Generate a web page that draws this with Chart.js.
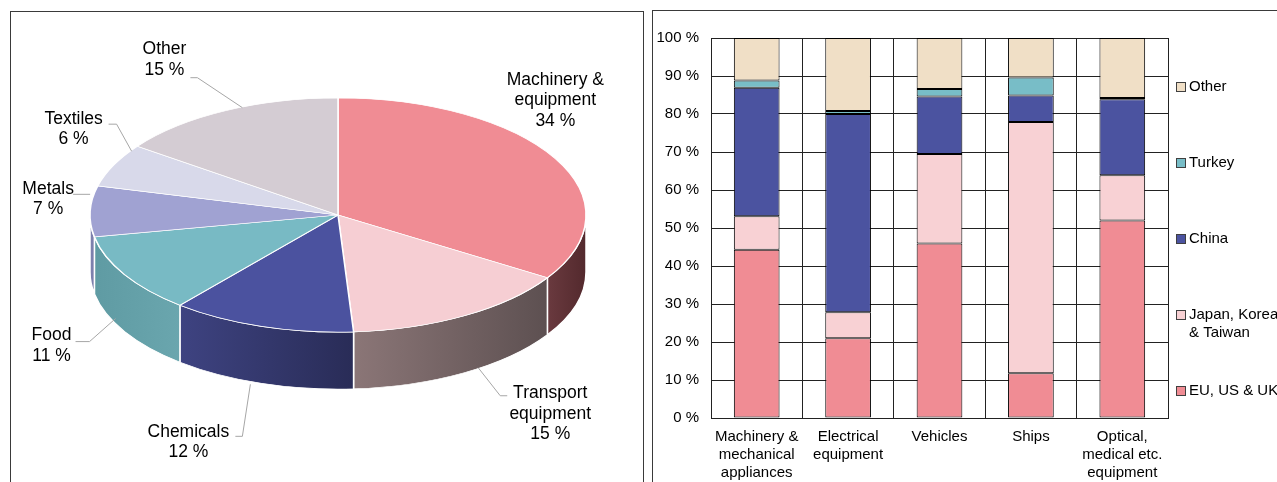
<!DOCTYPE html>
<html>
<head>
<meta charset="utf-8">
<script src="https://cdn.jsdelivr.net/npm/chart.js@4.4.1/dist/chart.umd.min.js"></script>
<style>
  html, body { margin: 0; padding: 0; background: #fff; }
  body { width: 1277px; height: 482px; overflow: hidden; position: relative; }
  .panel { position: absolute; border: 1px solid #3a3a3a; box-sizing: border-box; }
  #pieBox { left: 10px; top: 11px; width: 634px; height: 490px; }
  #barBox { left: 652px; top: 10px; width: 660px; height: 490px; }
  #pieChart { position: absolute; left: 0; top: 0; }
  #barChart { position: absolute; left: 653px; top: 11px; }
</style>
</head>
<body>
<div class="panel" id="pieBox"></div>
<div class="panel" id="barBox"></div>
<canvas id="pieChart" width="650" height="600"></canvas>
<canvas id="barChart" width="624" height="471"></canvas>

<script>
const FONT = '"Liberation Sans", Arial, sans-serif';

// pie: import shares by product group
const pieNames = [['Machinery &', 'equipment'], ['Transport', 'equipment'], ['Chemicals'], ['Food'], ['Metals'], ['Textiles'], ['Other']];
const pieValues = [34, 15, 12, 11, 7, 6, 15];
const pieColors = ['#F08C94', '#F6CED3', '#4B529F', '#78BAC4', '#A0A2D2', '#D8D9EA', '#D4CCD3'];
const pieSideColors = [
    ['#6a3a3f', '#53292d'],
    ['#8b7677', '#5d5051'],
    ['#3e4381', '#292c57'],
    ['#5f9ba3', '#6aa6ae'],
    ['#7d80ad', '#7d80ad'],
    ['#a9aabb', '#a9aabb'],
    ['#a8a0a6', '#a8a0a6']
];

// bar: share by origin
const barCategories = [['Machinery &', 'mechanical', 'appliances'], ['Electrical', 'equipment'], 'Vehicles', 'Ships', ['Optical,', 'medical etc.', 'equipment']];
const euUsUk = [44.3, 21.0, 45.9, 11.8, 52.0];
const japanKoreaTaiwan = [8.8, 6.8, 23.6, 66.1, 11.9];
const china = [33.8, 52.2, 15.1, 7.0, 20.0];
const turkey = [1.9, 0.8, 2.0, 4.7, 0.3];
const other = [11.2, 19.2, 13.4, 10.4, 15.8];

// pie layout (screen position of the tilted pie)
const PIE_CX = 338, PIE_CY = 215, PIE_K = 0.472, PIE_DEPTH = 57;

// label block offset + leader path, relative to the slice anchor
const pieLabelLayout = [
    { text: [0, -58], path: null },
    { text: [86, 41], path: [[14, -5], [36, 23], [43, 23]] },
    { text: [-73, 59], path: [[-11, 1], [-19, 53], [-26, 53]] },
    { text: [-73, 14], path: [[-9, -13], [-35, 10], [-49, 10]] },
    { text: [-42, -12], path: [[0, -17], [-17, -17]] },
    { text: [-40, -36], path: [[18, -14], [3, -41], [-5, -41]] },
    { text: [-61, -51], path: [[17, -3], [-28, -33], [-35, -33]] }
];

const pie3d = {
    id: 'pie3d',
    beforeDatasetsDraw(chart) {
        const ctx = chart.ctx;
        const arcs = chart.getDatasetMeta(0).data;
        const c = arcs[0];
        ctx.save();
        ctx.translate(PIE_CX, PIE_CY);
        ctx.scale(1, PIE_K);
        ctx.translate(-c.x, -c.y);

        const D = PIE_DEPTH / PIE_K;
        arcs.forEach((arc, i) => {
            const s = Math.max(arc.startAngle, 0);
            const e = Math.min(arc.endAngle, Math.PI);
            if (e <= s) return;
            const r = arc.outerRadius;
            ctx.beginPath();
            ctx.arc(arc.x, arc.y, r, s, e);
            ctx.arc(arc.x, arc.y + D, r, e, s, true);
            ctx.closePath();
            const xa = arc.x + r * Math.cos(e), xb = arc.x + r * Math.cos(s);
            const g = ctx.createLinearGradient(Math.min(xa, xb), 0, Math.max(xa, xb) + 0.01, 0);
            g.addColorStop(0, pieSideColors[i][0]);
            g.addColorStop(1, pieSideColors[i][1]);
            ctx.fillStyle = g;
            ctx.fill();
            ctx.strokeStyle = '#fff';
            ctx.lineWidth = 1.5;
            ctx.stroke();
        });
    },
    afterDatasetsDraw(chart) {
        chart.ctx.restore();
    },
    afterDraw(chart) {
        const ctx = chart.ctx;
        const arcs = chart.getDatasetMeta(0).data;
        ctx.save();
        ctx.font = '17.5px ' + FONT;
        ctx.textAlign = 'center';
        ctx.textBaseline = 'middle';
        arcs.forEach((arc, i) => {
            const mid = (arc.startAngle + arc.endAngle) / 2;
            const r = arc.outerRadius;
            const ax = PIE_CX + r * Math.cos(mid);
            let ay = PIE_CY + r * PIE_K * Math.sin(mid);
            if (Math.sin(mid) > 0) ay += PIE_DEPTH;
            const lay = pieLabelLayout[i];

            if (lay.path) {
                ctx.strokeStyle = '#a6a6a6';
                ctx.lineWidth = 1;
                ctx.beginPath();
                lay.path.forEach((p, j) => {
                    if (j === 0) ctx.moveTo(ax + p[0], ay + p[1]);
                    else ctx.lineTo(ax + p[0], ay + p[1]);
                });
                ctx.stroke();
            }

            const lines = pieNames[i].concat([pieValues[i] + ' %']);
            const lh = 20.5;
            const cx = ax + lay.text[0];
            const cy = ay + lay.text[1] - (lines.length - 1) * lh / 2;
            ctx.fillStyle = '#000';
            lines.forEach((t, j) => ctx.fillText(t, cx, cy + j * lh));
        });
        ctx.restore();
    }
};

new Chart(document.getElementById('pieChart'), {
    type: 'pie',
    data: {
        labels: pieNames.map(n => n.join(' ')),
        datasets: [{
            data: pieValues,
            backgroundColor: pieColors,
            borderColor: '#fff',
            borderWidth: 1.5,
            clip: false
        }]
    },
    options: {
        responsive: false,
        animation: false,
        radius: 248,
        events: [],
        plugins: { legend: { display: false }, tooltip: { enabled: false } }
    },
    plugins: [pie3d]
});

// legend on the right, spread down the plot height
const sideLegend = {
    id: 'sideLegend',
    afterDraw(chart) {
        const ctx = chart.ctx;
        const a = chart.chartArea;
        const h = a.bottom - a.top;
        const sets = chart.data.datasets.slice().reverse();
        ctx.save();
        ctx.font = '15px ' + FONT;
        ctx.textBaseline = 'middle';
        ctx.textAlign = 'left';
        sets.forEach((ds, i) => {
            const y = Math.round(a.top + h * (0.129 + 0.2 * i));
            const bx = a.right + 8;
            ctx.fillStyle = ds.backgroundColor;
            ctx.fillRect(bx, y - 5, 9, 9);
            ctx.strokeStyle = '#404040';
            ctx.lineWidth = 1;
            ctx.strokeRect(bx + 0.5, y - 4.5, 9, 9);
            ctx.fillStyle = '#000';
            const lines = ds.legendText || [ds.label];
            lines.forEach((t, j) => ctx.fillText(t, bx + 13, y + j * 18));
        });
        ctx.restore();
    }
};

const gridCol = '#222';
const tickFont = { family: FONT, size: 15, lineHeight: 1.2 };

new Chart(document.getElementById('barChart'), {
    type: 'bar',
    data: {
        labels: barCategories,
        datasets: [
            { label: 'EU, US & UK', data: euUsUk, backgroundColor: '#F08C94' },
            { label: 'Japan, Korea & Taiwan', legendText: ['Japan, Korea', '& Taiwan'], data: japanKoreaTaiwan, backgroundColor: '#F8D1D4' },
            { label: 'China', data: china, backgroundColor: '#4B53A0' },
            { label: 'Turkey', data: turkey, backgroundColor: '#78BDC7' },
            { label: 'Other', data: other, backgroundColor: '#F0DFC6' }
        ]
    },
    options: {
        responsive: false,
        animation: false,
        events: [],
        layout: { padding: { top: 27, right: 109, left: 0, bottom: 0 } },
        datasets: {
            bar: {
                barPercentage: 0.5,
                categoryPercentage: 1,
                borderWidth: 1,
                borderColor: '#000',
                borderSkipped: false
            }
        },
        scales: {
            x: {
                stacked: true,
                grid: { offset: true, color: gridCol, drawTicks: false },
                border: { color: gridCol },
                ticks: { color: '#000', font: tickFont, padding: 10, maxRotation: 0, autoSkip: false },
                afterFit(s) { s.height = 64; }
            },
            y: {
                stacked: true,
                min: 0,
                max: 100,
                grid: { color: gridCol, drawTicks: false },
                border: { color: gridCol },
                ticks: { stepSize: 10, color: '#000', font: tickFont, padding: 12, callback: v => v + ' %' },
                afterFit(s) { s.width = 58; }
            }
        },
        plugins: { legend: { display: false }, tooltip: { enabled: false } }
    },
    plugins: [sideLegend]
});
</script>
</body>
</html>
